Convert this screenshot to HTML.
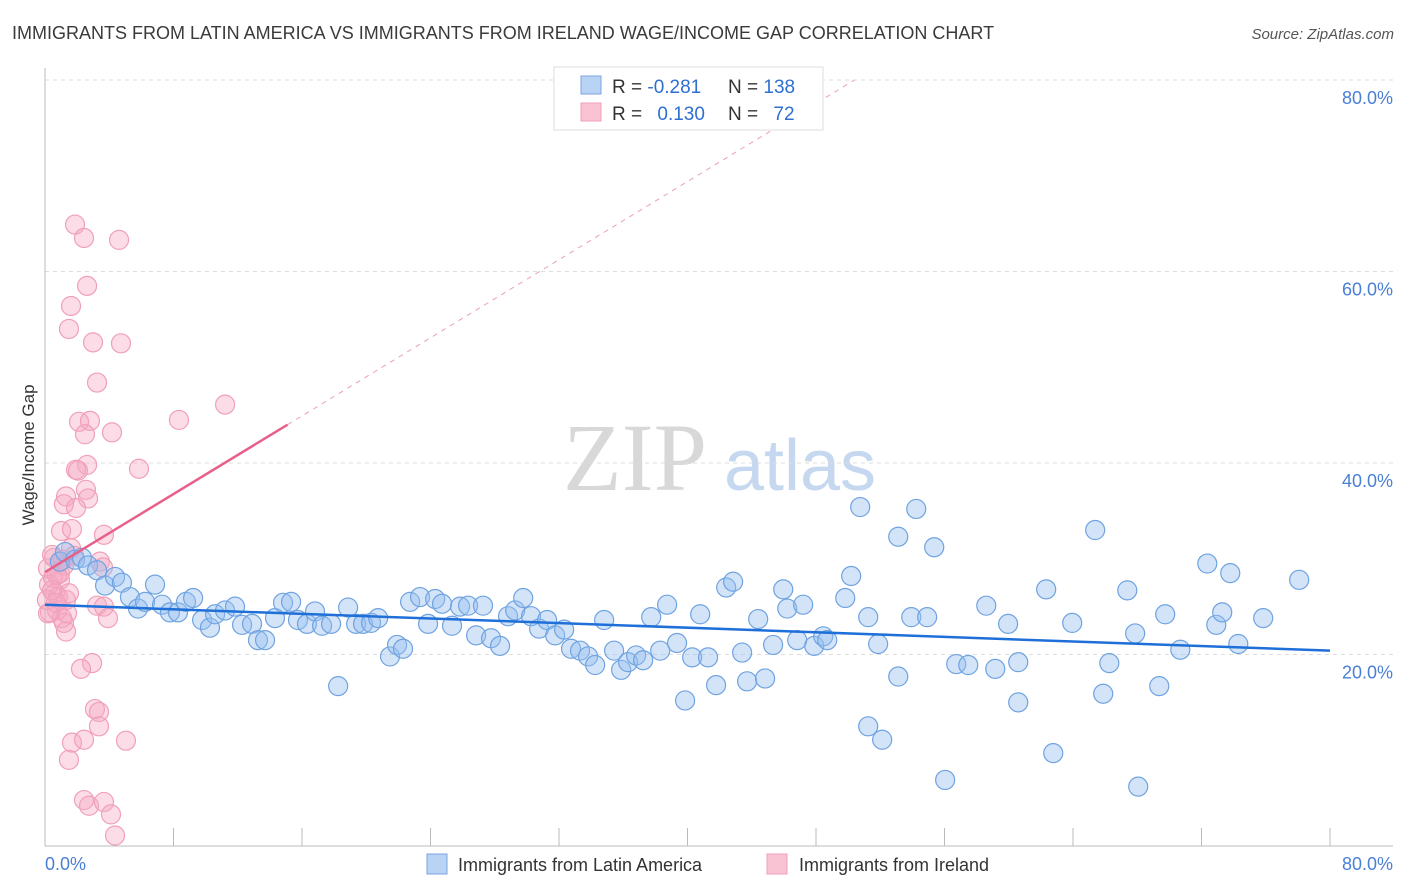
<!DOCTYPE html>
<html><head><meta charset="utf-8"><style>
body{margin:0;background:#fff;font-family:"Liberation Sans",sans-serif;}
svg{display:block}
</style></head><body>
<svg id="chart" width="1406" height="892" xmlns="http://www.w3.org/2000/svg">
<text x="12" y="39" font-size="18" fill="#3a3a3a">IMMIGRANTS FROM LATIN AMERICA VS IMMIGRANTS FROM IRELAND WAGE/INCOME GAP CORRELATION CHART</text>
<text x="1394" y="39" font-size="15" fill="#555" font-style="italic" text-anchor="end">Source: ZipAtlas.com</text>
<g>
<text x="635" y="490" font-size="96" font-family="Liberation Serif,serif" fill="#d8d8d8" text-anchor="middle">ZIP</text>
<text x="800" y="490" font-size="72" fill="#c5d8f0" text-anchor="middle">atlas</text>
</g>
<g id="grid"></g>
<g id="axes"></g>
<g id="marks"></g>
<text transform="translate(34,455) rotate(-90)" font-size="17" fill="#333" text-anchor="middle">Wage/Income Gap</text>
<g>
<rect x="554" y="67" width="269" height="63" fill="#fff" stroke="#ddd"/>
<rect x="581" y="76" width="20" height="18" fill="#b9d3f5" stroke="#7aa6e0"/>
<rect x="581" y="103" width="20" height="18" fill="#f9c3d3" stroke="#f0a0b8"/>
<text x="612" y="93" font-size="19" fill="#333">R = <tspan fill="#2f6fd0">-0.281</tspan></text>
<text x="728" y="93" font-size="19" fill="#333">N = <tspan fill="#2f6fd0">138</tspan></text>
<text x="612" y="120" font-size="19" fill="#333">R = <tspan fill="#2f6fd0" dx="10">0.130</tspan></text>
<text x="728" y="120" font-size="19" fill="#333">N = <tspan fill="#2f6fd0" dx="10">72</tspan></text>
</g>
<g>
<rect x="427" y="854" width="20" height="20" fill="#b9d3f5" stroke="#7aa6e0"/>
<text x="458" y="871" font-size="18" fill="#333">Immigrants from Latin America</text>
<rect x="767" y="854" width="20" height="20" fill="#f9c3d3" stroke="#f0a0b8"/>
<text x="799" y="871" font-size="18" fill="#333">Immigrants from Ireland</text>
</g>
</svg>
<script>
const blueX=[0.93,1.25,1.87,2.30,2.68,3.24,3.74,4.36,4.79,5.29,5.79,6.23,6.85,7.29,7.78,8.28,8.78,9.22,9.78,10.27,10.59,11.21,11.83,12.27,12.89,13.26,13.70,14.32,14.82,15.32,15.75,16.31,16.81,17.25,17.81,18.25,18.87,19.37,19.80,20.30,20.74,21.48,21.92,22.29,22.73,23.35,23.85,24.29,24.72,25.34,25.84,26.34,26.84,27.27,27.77,28.33,28.83,29.27,29.77,30.26,30.76,31.26,31.76,32.32,32.75,33.31,33.81,34.25,34.81,35.43,35.87,36.30,36.80,37.24,37.74,38.30,38.73,39.35,39.85,40.29,40.79,41.28,41.78,42.41,42.84,43.40,43.71,44.40,44.83,45.33,45.96,46.21,46.83,47.20,47.89,48.45,48.70,49.82,50.19,50.75,51.25,51.87,51.25,52.12,53.12,53.12,53.93,54.24,54.92,55.36,56.04,56.73,57.48,58.60,59.16,59.96,60.59,60.59,62.33,62.77,63.95,65.38,65.88,66.26,67.38,67.87,68.06,69.37,69.74,70.68,72.36,72.92,73.29,73.79,74.29,75.84,78.08];
const blueY=[29.7,30.7,29.9,30.1,29.3,28.8,27.2,28.1,27.5,26.0,24.8,25.5,27.3,25.2,24.4,24.4,25.5,25.9,23.6,22.8,24.2,24.6,25.0,23.1,23.2,21.5,21.5,23.8,25.4,25.5,23.6,23.2,24.5,23.0,23.2,16.7,24.9,23.2,23.2,23.3,23.8,19.8,21.0,20.6,25.5,26.0,23.2,25.8,25.3,23.0,25.0,25.1,22.0,25.1,21.7,20.9,24.0,24.6,25.9,24.0,22.7,23.6,22.0,22.6,20.6,20.4,19.8,18.9,23.6,20.4,18.4,19.2,19.9,19.4,23.9,20.4,25.2,21.2,15.2,19.7,24.2,19.7,16.8,27.0,27.6,20.2,17.2,23.7,17.5,21.0,26.8,24.8,21.5,25.2,20.9,21.9,21.5,25.9,28.2,35.4,23.9,21.1,12.5,11.1,32.3,17.7,23.9,35.2,23.9,31.2,6.9,19.0,18.9,25.1,18.5,23.2,19.2,15.0,26.8,9.7,23.3,33.0,15.9,19.1,26.7,22.2,6.2,16.7,24.2,20.5,29.5,23.1,24.4,28.5,21.1,23.8,27.8];
const pinkX=[1.87,2.43,4.61,2.62,1.62,1.49,2.99,4.73,3.24,11.21,8.34,2.12,2.80,2.49,4.17,2.62,1.93,2.05,5.85,2.55,1.31,2.68,1.18,1.93,1.00,1.68,3.67,1.62,0.56,0.19,0.50,0.93,0.25,0.62,0.81,1.31,1.49,0.75,0.31,0.93,1.18,1.81,3.42,3.61,3.24,3.67,3.92,1.06,1.31,1.18,2.93,2.24,3.11,3.36,3.36,1.68,2.43,5.04,1.49,2.43,2.74,3.67,4.11,4.36,0.44,0.12,0.75,0.44,1.12,1.37,0.68,0.19];
const pinkY=[64.9,63.5,63.3,58.5,56.4,54.0,52.6,52.5,48.4,46.1,44.5,44.3,44.4,43.0,43.2,39.8,39.3,39.2,39.4,37.2,36.5,36.3,35.7,35.3,32.9,33.1,32.5,31.1,30.1,29.0,28.0,27.8,27.3,26.4,26.0,25.7,26.4,24.6,24.4,28.5,29.3,30.3,29.7,29.1,25.1,25.0,23.8,23.8,22.4,23.3,19.1,18.5,14.3,14.0,12.5,10.8,11.1,11.0,9.0,4.8,4.2,4.6,3.3,1.1,30.4,25.7,28.3,26.7,29.9,24.3,25.4,24.3];
const blueTrend=[25.2,20.4];
const pinkTrend=[28.6,44.0];
const pinkTrendEndX=15.1;
const yTicks=[20,40,60,80];
const yTickLabels=["20.0%","40.0%","60.0%","80.0%"];
const xTicks=[0,8,16,24,32,40,48,56,64,72,80];

const NS="http://www.w3.org/2000/svg";
const X0=45,X1=1330,Y0=846,Ytop=80;
const sx=v=>X0+(v/80)*(X1-X0);
const sy=v=>Y0-(v/80)*(Y0-Ytop);
function mk(tag,attrs,parent){const e=document.createElementNS(NS,tag);for(const k in attrs)e.setAttribute(k,attrs[k]);parent.appendChild(e);return e;}
const grid=document.getElementById('grid'),axes=document.getElementById('axes'),marks=document.getElementById('marks');
yTicks.forEach((t,i)=>{
 const l=mk('line',{x1:X0,x2:1393,y1:sy(t),y2:sy(t),stroke:'#ddd','stroke-dasharray':'4,4'},grid);
 
 
 const tx=mk('text',{x:1393,y:sy(t)+24,'font-size':18,fill:'#4a7fd6','text-anchor':'end'},axes);
 tx.textContent=yTickLabels[i];
 
 
});
const ya=mk('line',{x1:X0,x2:X0,y1:68,y2:Y0,stroke:'#bbb'},axes);


const xa=mk('line',{x1:X0,x2:1393,y1:Y0,y2:Y0,stroke:'#bbb'},axes);


xTicks.forEach(t=>{
 const l=mk('line',{x1:sx(t),x2:sx(t),y1:828,y2:Y0,stroke:'#bbb'},axes);
 
 
});
const xl0=mk('text',{x:45,y:870,'font-size':18,fill:'#4a7fd6'},axes);xl0.textContent="0.0%";


const xl1=mk('text',{x:1393,y:870,'font-size':18,fill:'#4a7fd6','text-anchor':'end'},axes);xl1.textContent="80.0%";



pinkX.forEach((x,i)=>{
 const c=mk('circle',{cx:sx(x),cy:sy(pinkY[i]),r:9.5,fill:'rgba(246,168,194,0.4)',stroke:'#f0a0b8','stroke-width':1.2},marks);
 
 
});
blueX.forEach((x,i)=>{
 const c=mk('circle',{cx:sx(x),cy:sy(blueY[i]),r:9.5,fill:'rgba(150,190,240,0.42)',stroke:'#6fa3e0','stroke-width':1.2},marks);
 
 
});
const bt=mk('line',{x1:sx(0),y1:sy(blueTrend[0]),x2:sx(80),y2:sy(blueTrend[1]),stroke:'#1f6fd8','stroke-width':2.5},marks);


const slope=(pinkTrend[1]-pinkTrend[0])/pinkTrendEndX;
const pt=mk('line',{x1:sx(0),y1:sy(pinkTrend[0]),x2:sx(pinkTrendEndX),y2:sy(pinkTrend[1]),stroke:'#e8608a','stroke-width':2.5},marks);


const xEnd=(80-pinkTrend[0])/slope;
const pd=mk('line',{x1:sx(pinkTrendEndX),y1:sy(pinkTrend[1]),x2:sx(xEnd),y2:sy(80),stroke:'#eaa0b8','stroke-width':1,'stroke-dasharray':'5,5'},marks);


</script>
</body></html>
